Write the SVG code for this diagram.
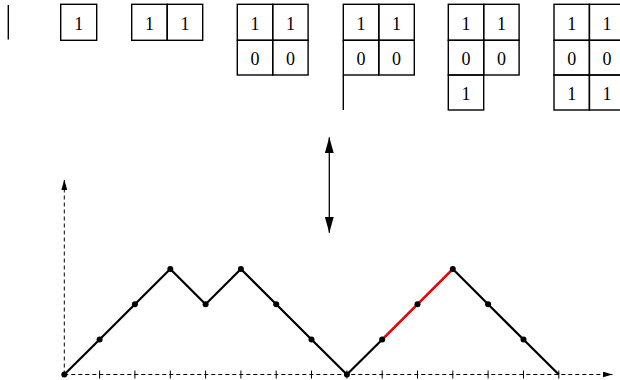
<svg xmlns="http://www.w3.org/2000/svg" width="620" height="380" viewBox="0 0 620 380">
<style>
.cell{fill:none;stroke:#000;stroke-width:1.4}
.num{font-family:"Liberation Serif",serif;font-size:18px;text-anchor:middle;fill:#000}
.axis{stroke:#000;stroke-width:1;stroke-dasharray:4 3;fill:none}
.tick{stroke:#000;stroke-width:1}
.path{stroke:#000;stroke-width:2.2;fill:none;stroke-linejoin:round}
.dot{fill:#000}
</style>
<defs>
<marker id="ah" markerWidth="10" markerHeight="6" refX="10" refY="3" orient="auto" markerUnits="userSpaceOnUse">
<path d="M0,0 L10,3 L0,6 Z" fill="#000"/>
</marker>
<marker id="big" markerWidth="16" markerHeight="9" refX="16" refY="4.5" orient="auto" markerUnits="userSpaceOnUse">
<path d="M0,0 L16,4.5 L0,9 Z" fill="#000"/>
</marker>
</defs>
<g id="t0"><line x1="8.3" y1="5" x2="8.3" y2="39.5" stroke="#000" stroke-width="1.4"/></g>
<g id="t1">
<rect class="cell" x="60.7" y="4.3" width="36" height="36"/>
<text class="num" x="78.7" y="29.5">1</text>
</g>
<g id="t2">
<rect class="cell" x="131.7" y="4.3" width="35.5" height="36"/>
<rect class="cell" x="167.2" y="4.3" width="35.5" height="36"/>
<text class="num" x="149.5" y="29.5">1</text><text class="num" x="185" y="29.5">1</text>
</g>
<g id="t3">
<rect class="cell" x="237.3" y="4.3" width="35.4" height="36"/>
<rect class="cell" x="272.7" y="4.3" width="35.4" height="36"/>
<rect class="cell" x="237.3" y="40.3" width="35.4" height="34.7"/>
<rect class="cell" x="272.7" y="40.3" width="35.4" height="34.7"/>
<text class="num" x="255" y="29.5">1</text><text class="num" x="290.4" y="29.5">1</text>
<text class="num" x="255" y="64.8">0</text><text class="num" x="290.4" y="64.8">0</text>
</g>
<g id="t4">
<rect class="cell" x="343.3" y="4.3" width="35.5" height="36"/>
<rect class="cell" x="378.8" y="4.3" width="35.5" height="36"/>
<rect class="cell" x="343.3" y="40.3" width="35.5" height="34.7"/>
<rect class="cell" x="378.8" y="40.3" width="35.5" height="34.7"/>
<line x1="343.3" y1="75" x2="343.3" y2="110" stroke="#000" stroke-width="1.4"/>
<text class="num" x="361" y="29.5">1</text><text class="num" x="396.5" y="29.5">1</text>
<text class="num" x="361" y="64.8">0</text><text class="num" x="396.5" y="64.8">0</text>
</g>
<g id="t5">
<rect class="cell" x="448.3" y="4.3" width="35.4" height="36"/>
<rect class="cell" x="483.7" y="4.3" width="35.4" height="36"/>
<rect class="cell" x="448.3" y="40.3" width="35.4" height="34.7"/>
<rect class="cell" x="483.7" y="40.3" width="35.4" height="34.7"/>
<rect class="cell" x="448.3" y="75" width="35.4" height="35"/>
<text class="num" x="466" y="29.5">1</text><text class="num" x="501.4" y="29.5">1</text>
<text class="num" x="466" y="64.8">0</text><text class="num" x="501.4" y="64.8">0</text>
<text class="num" x="466" y="99.8">1</text>
</g>
<g id="t6">
<rect class="cell" x="554" y="4.3" width="35.4" height="36"/>
<rect class="cell" x="589.4" y="4.3" width="35.4" height="36"/>
<rect class="cell" x="554" y="40.3" width="35.4" height="34.7"/>
<rect class="cell" x="589.4" y="40.3" width="35.4" height="34.7"/>
<rect class="cell" x="554" y="75" width="35.4" height="35"/>
<rect class="cell" x="589.4" y="75" width="35.4" height="35"/>
<text class="num" x="571.7" y="29.5">1</text><text class="num" x="607" y="29.5">1</text>
<text class="num" x="571.7" y="64.8">0</text><text class="num" x="607" y="64.8">0</text>
<text class="num" x="571.7" y="99.8">1</text><text class="num" x="607" y="99.8">1</text>
</g>
<g id="connectors">
<line x1="329.3" y1="145" x2="329.3" y2="137.3" stroke="#000" stroke-width="1.3" marker-end="url(#big)"/>
<line x1="329.3" y1="145" x2="329.3" y2="232.7" stroke="#000" stroke-width="1.3" marker-end="url(#big)"/>
</g>
<g id="axes">
<line class="axis" x1="64.3" y1="374.5" x2="612" y2="374.5"/>
<line x1="604" y1="374.5" x2="612.5" y2="374.5" stroke="#000" stroke-width="1" marker-end="url(#ah)"/>
<line class="axis" x1="64.3" y1="374.5" x2="64.3" y2="182"/>
<line x1="64.3" y1="188" x2="64.3" y2="180" stroke="#000" stroke-width="1" marker-end="url(#ah)"/>
<g class="tick">
<line x1="99.6" y1="370.5" x2="99.6" y2="378.5"/>
<line x1="134.9" y1="370.5" x2="134.9" y2="378.5"/>
<line x1="170.3" y1="370.5" x2="170.3" y2="378.5"/>
<line x1="205.6" y1="370.5" x2="205.6" y2="378.5"/>
<line x1="240.9" y1="370.5" x2="240.9" y2="378.5"/>
<line x1="276.2" y1="370.5" x2="276.2" y2="378.5"/>
<line x1="311.5" y1="370.5" x2="311.5" y2="378.5"/>
<line x1="346.9" y1="370.5" x2="346.9" y2="378.5"/>
<line x1="382.2" y1="370.5" x2="382.2" y2="378.5"/>
<line x1="417.5" y1="370.5" x2="417.5" y2="378.5"/>
<line x1="452.8" y1="370.5" x2="452.8" y2="378.5"/>
<line x1="488.1" y1="370.5" x2="488.1" y2="378.5"/>
<line x1="523.5" y1="370.5" x2="523.5" y2="378.5"/>
<line x1="558.8" y1="370.5" x2="558.8" y2="378.5"/>
</g>
</g>
<g id="dyck">
<polyline class="path" points="64.3,374.5 99.6,339.5 134.9,304.3 170.3,269 205.6,304.3 240.9,269 276.2,304.3 311.5,339.5 346.9,374.5 382.2,339.5 417.5,304.3 452.8,269 488.1,304.3 523.5,339.5 558.8,374.5"/>
<polyline points="382.2,339.5 417.5,304.3 452.8,269" fill="none" stroke="#f00" stroke-width="2.2"/>
<g class="dot">
<circle cx="64.3" cy="374.5" r="3"/><circle cx="99.6" cy="339.5" r="3"/><circle cx="134.9" cy="304.3" r="3"/>
<circle cx="170.3" cy="269" r="3"/><circle cx="205.6" cy="304.3" r="3"/><circle cx="240.9" cy="269" r="3"/>
<circle cx="276.2" cy="304.3" r="3"/><circle cx="311.5" cy="339.5" r="3"/><circle cx="346.9" cy="374.5" r="3"/>
<circle cx="382.2" cy="339.5" r="3"/><circle cx="417.5" cy="304.3" r="3"/><circle cx="452.8" cy="269" r="3"/>
<circle cx="488.1" cy="304.3" r="3"/><circle cx="523.5" cy="339.5" r="3"/>
</g>
</g>
</svg>
